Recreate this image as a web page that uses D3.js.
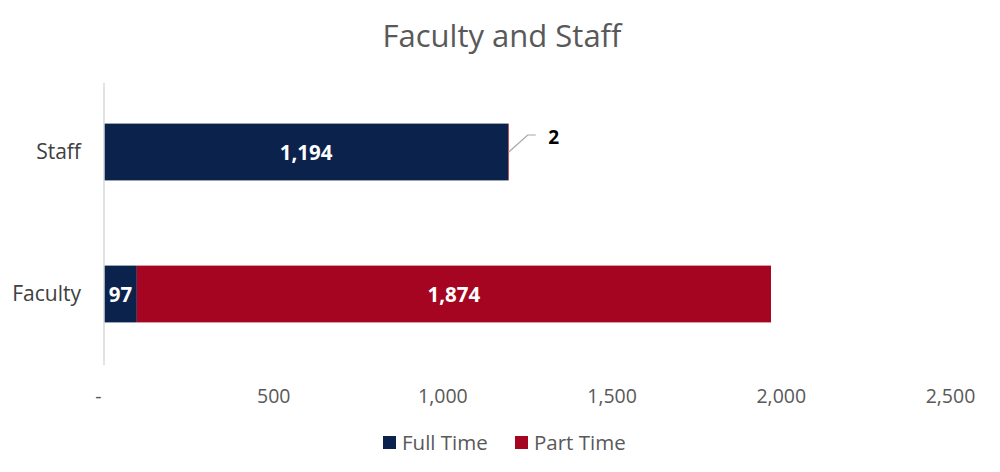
<!DOCTYPE html>
<html>
<head>
<meta charset="utf-8">
<script src="https://cdn.jsdelivr.net/npm/d3@7"></script>
<style>
  html, body { margin: 0; padding: 0; background: #fff; }
  svg { display: block; font-family: "Open Sans", "Noto Sans", sans-serif; }
</style>
</head>
<body>
<svg id="chart" width="1000" height="472"></svg>
<script>
const categories = ["Staff", "Faculty"];
const seriesNames = ["Full Time", "Part Time"];
const fullTime = [1194, 97];
const partTime = [2, 1874];
const tickValues = [0, 500, 1000, 1500, 2000, 2500];
const colors = ["#0B224D", "#A50520"];
const chartTitle = "Faculty and Staff";

const svg = d3.select("#chart");
const mLeft = 104, mRight = 950, mTop = 81, mBottom = 365;

const x = d3.scaleLinear().domain([0, 2500]).range([mLeft, mRight]);
const y = d3.scaleBand().domain(categories).range([mTop, mBottom]).paddingInner(0.6).paddingOuter(0.3);

const rows = categories.map((c, i) => ({ cat: c, "Full Time": fullTime[i], "Part Time": partTime[i] }));
const stacked = d3.stack().keys(seriesNames)(rows);

// title
svg.append("text").attr("x", 502).attr("y", 47).attr("text-anchor", "middle")
  .attr("font-size", 31).attr("fill", "#595959").text(chartTitle);

// bars
stacked.forEach((s, si) => {
  svg.append("g").selectAll("rect").data(s).join("rect")
    .attr("x", d => x(d[0])).attr("y", d => y(d.data.cat))
    .attr("width", d => x(d[1]) - x(d[0])).attr("height", y.bandwidth())
    .attr("fill", colors[si]);
});

// vertical axis line
svg.append("line").attr("x1", mLeft).attr("x2", mLeft).attr("y1", mTop + 2).attr("y2", mBottom)
  .attr("stroke", "#D9D9D9").attr("stroke-width", 1.5);

// category labels
const yAxis = d3.axisLeft(y).tickSize(0).tickPadding(23);
const gy = svg.append("g").attr("transform", `translate(${mLeft},0)`).call(yAxis);
gy.select(".domain").remove();
gy.selectAll("text").attr("font-size", 21).attr("fill", "#404040").attr("font-family", "Open Sans, sans-serif");

// x axis tick labels
const fmt = d3.format(",");
const xAxis = d3.axisBottom(x).tickValues(tickValues).tickSize(0).tickPadding(0)
  .tickFormat(d => d === 0 ? "-" : fmt(d));
const gx = svg.append("g").attr("transform", `translate(0,403)`).call(xAxis);
gx.select(".domain").remove();
gx.selectAll("text").attr("font-size", 19.5).attr("fill", "#595959").attr("dy", 0)
  .attr("font-family", "Open Sans, sans-serif")
  .attr("dx", d => d === 0 ? -6 : 0);

// data labels
stacked.forEach((s, si) => {
  s.forEach(d => {
    const v = d[1] - d[0];
    const cy = y(d.data.cat) + y.bandwidth() / 2;
    if (si === 1 && d.data.cat === "Staff") {
      const x0 = x(d[1]);
      svg.append("polyline")
        .attr("points", `${x0},${cy} ${x0 + 19},${cy - 17} ${x0 + 27},${cy - 17}`)
        .attr("fill", "none").attr("stroke", "#A6A6A6").attr("stroke-width", 1.2);
      svg.append("text").attr("x", x0 + 45).attr("y", cy - 8).attr("text-anchor", "middle")
        .attr("font-size", 19).attr("font-weight", "bold").attr("fill", "#000").text(fmt(v));
    } else {
      svg.append("text").attr("x", (x(d[0]) + x(d[1])) / 2).attr("y", cy + 8)
        .attr("text-anchor", "middle").attr("font-size", 20.5).attr("font-weight", "bold")
        .attr("fill", "#fff").text(fmt(v));
    }
  });
});

// legend
const legendItems = [{ name: seriesNames[0], x: 383 }, { name: seriesNames[1], x: 515 }];
const lg = svg.append("g");
legendItems.forEach((it, i) => {
  lg.append("rect").attr("x", it.x).attr("y", 436).attr("width", 13).attr("height", 13).attr("fill", colors[i]);
  lg.append("text").attr("x", it.x + 19).attr("y", 450).attr("font-size", 20.5).attr("fill", "#595959").text(it.name);
});
</script>
</body>
</html>
